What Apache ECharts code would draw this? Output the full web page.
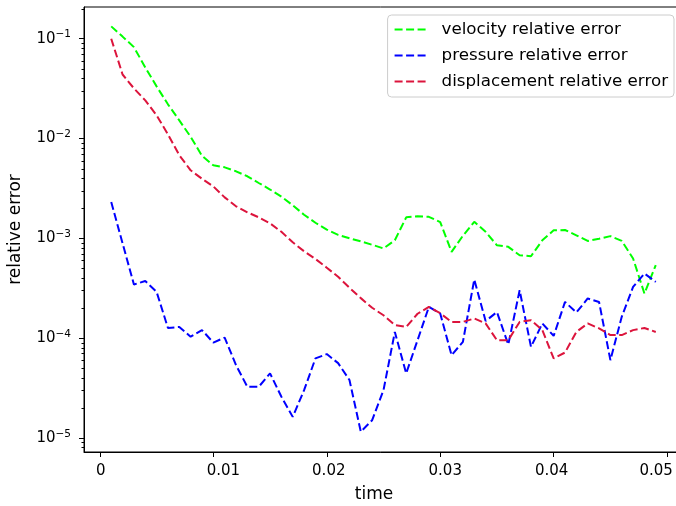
<!DOCTYPE html>
<html>
<head>
<meta charset="utf-8">
<script src="https://cdn.jsdelivr.net/npm/echarts@6/dist/echarts.min.js"></script>
<style>
  html, body { margin: 0; padding: 0; background: #fff; }
  #chart { width: 676px; height: 506px; }
</style>
</head>
<body>
<div id="chart"></div>
<script>
// time steps
const time = [
  0.001, 0.002, 0.003, 0.004, 0.005, 0.006, 0.007, 0.008, 0.009, 0.010,
  0.011, 0.012, 0.013, 0.014, 0.015, 0.016, 0.017, 0.018, 0.019, 0.020,
  0.021, 0.022, 0.023, 0.024, 0.025, 0.026, 0.027, 0.028, 0.029, 0.030,
  0.031, 0.032, 0.033, 0.034, 0.035, 0.036, 0.037, 0.038, 0.039, 0.040,
  0.041, 0.042, 0.043, 0.044, 0.045, 0.046, 0.047, 0.048, 0.049
]

const velocityErr = [
  0.133, 0.105, 0.0824, 0.0516, 0.0333, 0.022, 0.0152, 0.0104, 0.0067, 0.00538,
  0.00514, 0.00469, 0.00418, 0.00358, 0.00308, 0.00261, 0.00214, 0.00172, 0.00143, 0.00122,
  0.00108, 0.00100, 0.00093, 0.00086, 0.00079, 0.000955, 0.00162, 0.00166, 0.00164, 0.00145,
  0.00073, 0.00106, 0.00146, 0.00116, 0.00085, 0.00082, 0.000676, 0.00066, 0.000955, 0.0012,
  0.00121, 0.00107, 0.00094, 0.00099, 0.00105, 0.00094, 0.000627, 0.000279, 0.000537
]

const pressureErr = [
  0.00231, 0.00089, 0.000344, 0.000373, 0.00029, 0.000126, 0.000129, 0.000103, 0.00012, 0.00009,
  0.000101, 0.0000535, 0.0000324, 0.0000324, 0.0000442, 0.0000258, 0.0000162, 0.00003, 0.0000624, 0.000069,
  0.000056, 0.0000379, 0.0000115, 0.000015, 0.00003, 0.000115, 0.0000442, 0.000095, 0.000205, 0.000176,
  0.0000673, 0.0000916, 0.000386, 0.000148, 0.000182, 0.0000860, 0.000301, 0.0000815, 0.00014, 0.000105,
  0.00023, 0.00018, 0.000249, 0.00023, 0.00006, 0.000163, 0.000325, 0.000443, 0.000365
]

const displacementErr = [
  0.1, 0.0438, 0.0318, 0.0241, 0.0171, 0.011, 0.0068, 0.0048, 0.00395, 0.00331,
  0.00257, 0.00209, 0.00182, 0.00162, 0.00141, 0.00116, 0.00091, 0.00074, 0.00062, 0.000507,
  0.000411, 0.000319, 0.000251, 0.000201, 0.000169, 0.000135, 0.000129, 0.000175, 0.000205, 0.000177,
  0.000145, 0.000145, 0.000157, 0.00014, 0.000095, 0.000095, 0.000145, 0.000151, 0.00012, 0.0000624,
  0.0000715, 0.000115, 0.00014, 0.000125, 0.000107, 0.000107, 0.00012, 0.000126, 0.000115
]

const xTicks = [0, 0.01, 0.02, 0.03, 0.04, 0.05]
const yTicks = [1e-5, 1e-4, 1e-3, 1e-2, 1e-1]

const xMin = -0.0014
const xMax = 0.0514
const yMin = 7.2e-6
const yMax = 0.208

// minor log ticks 2..9 x 10^n
const yMinorTicks = []
;[1e-6, 1e-5, 1e-4, 1e-3, 1e-2, 1e-1].forEach((d) => {
  for (let m = 2; m <= 9; m++) {
    const v = m * d
    if (v > yMin && v < yMax) yMinorTicks.push(v)
  }
})

// the x tick labels in the picture sit a little off their ticks
const xLabelShift = [1, 10, 2, 5, -2, -11]

const fontFamily = "DejaVu Sans"
const dash = [8, 3.5]

const makeSeries = (name, values, color) => ({
  name,
  type: "line",
  data: time.map((t, i) => [t, values[i]]),
  symbol: "none",
  lineStyle: { color, width: 2, type: dash },
  itemStyle: { color },
  animation: false
})

const xRich = {}
xLabelShift.forEach((dx, i) => {
  xRich["l" + i] = {
    fontFamily, fontSize: 15, color: "#000",
    padding: [0, Math.max(-dx, 0) * 2, 0, Math.max(dx, 0) * 2]
  }
})

const chart = echarts.init(document.getElementById("chart"), null, { renderer: "canvas" })

chart.setOption({
  animation: false,
  textStyle: { fontFamily },
  grid: {
    left: 84, top: 7, width: 599, height: 445,
    outerBoundsMode: "none",
    containLabel: false,
    show: true, borderColor: "#000", borderWidth: 1, backgroundColor: "transparent"
  },
  legend: {
    orient: "vertical",
    right: 2,
    top: 15,
    itemWidth: 34,
    itemHeight: 14,
    itemGap: 9,
    padding: [6, 6, 7, 6],
    backgroundColor: "rgba(255,255,255,0.8)",
    borderColor: "#cccccc",
    borderWidth: 1,
    borderRadius: 4,
    itemStyle: { opacity: 0 },
    textStyle: { fontFamily, fontSize: 16.7, color: "#000", padding: [0, 0, 0, 8] },
    data: ["velocity relative error", "pressure relative error", "displacement relative error"]
  },
  xAxis: {
    type: "value",
    min: xMin,
    max: xMax,
    name: "time",
    nameLocation: "middle",
    nameGap: 34,
    nameTextStyle: { fontFamily, fontSize: 17, color: "#000", padding: [0, 19, 0, 0] },
    axisLine: { show: true, onZero: false, lineStyle: { color: "#000", width: 1 } },
    axisTick: { show: true, length: 5, customValues: xTicks, lineStyle: { color: "#000" } },
    axisLabel: {
      customValues: xTicks,
      margin: 12,
      fontFamily,
      fontSize: 15,
      color: "#000",
      formatter: (v) => {
        const i = xTicks.findIndex((t) => Math.abs(t - v) < 1e-9)
        const txt = v === 0 ? "0" : v.toFixed(2)
        return i < 0 ? txt : "{l" + i + "|" + txt + "}"
      },
      rich: xRich
    },
    splitLine: { show: false }
  },
  yAxis: {
    type: "log",
    min: yMin,
    max: yMax,
    name: "relative error",
    nameLocation: "middle",
    nameGap: 60,
    nameTextStyle: { fontFamily, fontSize: 17, color: "#000" },
    axisLine: { show: true, onZero: false, lineStyle: { color: "#000", width: 1 } },
    axisTick: { show: true, length: 5, customValues: yTicks, lineStyle: { color: "#000" } },
    axisLabel: {
      customValues: yTicks,
      margin: 13,
      color: "#000",
      formatter: (v) => {
        const e = Math.round(Math.log10(v))
        return "{b|10}{e|" + (e < 0 ? "\u2212" : "") + Math.abs(e) + "}"
      },
      rich: {
        b: { fontFamily, fontSize: 15, color: "#000" },
        e: { fontFamily, fontSize: 10.5, color: "#000", padding: [0, 0, 8, 0] }
      }
    },
    splitLine: { show: false }
  },
  series: [
    makeSeries("velocity relative error", velocityErr, "#00ff00"),
    makeSeries("pressure relative error", pressureErr, "#0000ff"),
    makeSeries("displacement relative error", displacementErr, "#dc143c"),
    {
      // minor ticks of the log axis
      type: "custom",
      silent: true,
      clip: false,
      data: yMinorTicks.map((v) => [xMin, v]),
      renderItem: (params, api) => {
        const p = api.coord([api.value(0), api.value(1)])
        const x = Math.round(p[0]) + 0.5
        const y = Math.round(p[1]) + 0.5
        return {
          type: "line",
          shape: { x1: x - 3, y1: y, x2: x, y2: y },
          style: { stroke: "#000", lineWidth: 1 }
        }
      }
    }
  ]
})
</script>
</body>
</html>
